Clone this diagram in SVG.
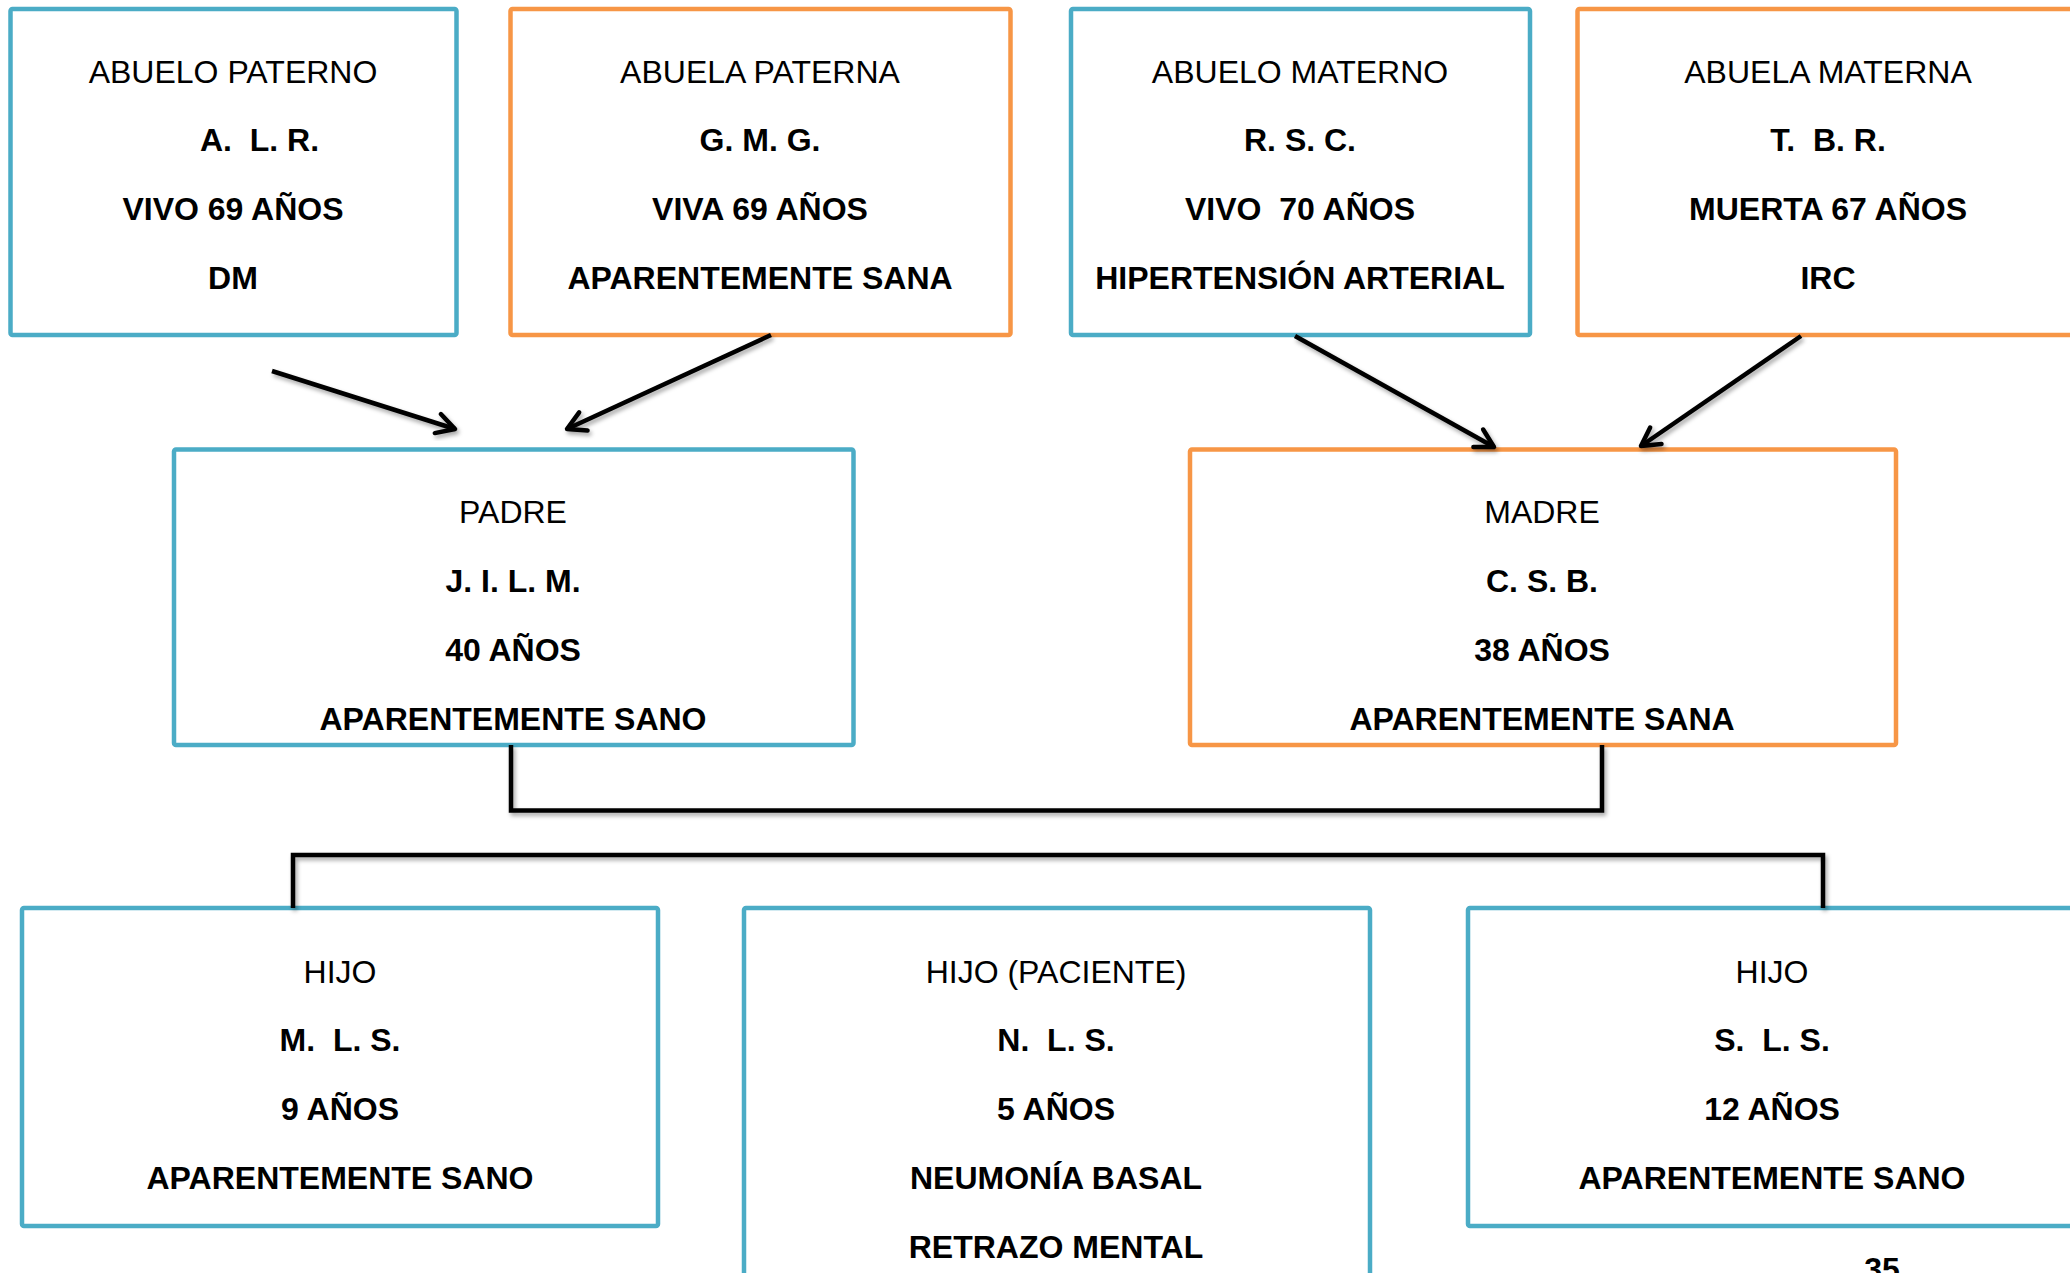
<svg xmlns="http://www.w3.org/2000/svg" width="2070" height="1273" viewBox="0 0 2070 1273">
<style>
.box{fill:#fff;stroke-width:4.5}
.b{stroke:#4BACC6}
.o{stroke:#F79646}
text{font-family:"Liberation Sans",Arial,sans-serif;font-size:32px;fill:#000;text-anchor:middle;white-space:pre}
.bd{font-weight:bold}
.conn{fill:none;stroke:#000;stroke-width:4.5;filter:url(#sh)}
</style>
<defs>
<filter id="sh" x="-20%" y="-20%" width="140%" height="140%">
<feDropShadow dx="2" dy="3" stdDeviation="2" flood-color="#000" flood-opacity="0.35"/>
</filter>
<marker id="arr" markerUnits="userSpaceOnUse" viewBox="-22 -13 26 26" refX="0" refY="0" markerWidth="26" markerHeight="26" orient="auto">
<path d="M-18,-10 L0,0 L-18,10" fill="none" stroke="#000" stroke-width="4.5" stroke-linecap="round" stroke-linejoin="round"/>
</marker>
</defs>
<rect width="2070" height="1273" fill="#fff"/>

<g id="abuelo-paterno">
<rect class="box b" x="10.5" y="9" width="446" height="326" rx="2"/>
<text x="233" y="83">ABUELO PATERNO</text>
<text class="bd" x="200" y="151" style="text-anchor:start">A.  L. R.</text>
<text class="bd" x="233" y="220">VIVO 69 AÑOS</text>
<text class="bd" x="233" y="289">DM</text>
</g>

<g id="abuela-paterna">
<rect class="box o" x="510.5" y="9" width="500" height="326" rx="2"/>
<text x="760" y="83">ABUELA PATERNA</text>
<text class="bd" x="760" y="151">G. M. G.</text>
<text class="bd" x="760" y="220">VIVA 69 AÑOS</text>
<text class="bd" x="760" y="289">APARENTEMENTE SANA</text>
</g>

<g id="abuelo-materno">
<rect class="box b" x="1071" y="9" width="459" height="326" rx="2"/>
<text x="1300" y="83">ABUELO MATERNO</text>
<text class="bd" x="1300" y="151">R. S. C.</text>
<text class="bd" x="1300" y="220">VIVO  70 AÑOS</text>
<text class="bd" x="1300" y="289">HIPERTENSIÓN ARTERIAL</text>
</g>

<g id="abuela-materna">
<rect class="box o" x="1577.5" y="9" width="503" height="326" rx="2"/>
<text x="1828" y="83">ABUELA MATERNA</text>
<text class="bd" x="1828" y="151">T.  B. R.</text>
<text class="bd" x="1828" y="220">MUERTA 67 AÑOS</text>
<text class="bd" x="1828" y="289">IRC</text>
</g>

<g id="padre">
<rect class="box b" x="174" y="449.5" width="679.5" height="295.5" rx="2"/>
<text x="513" y="523">PADRE</text>
<text class="bd" x="513" y="592">J. I. L. M.</text>
<text class="bd" x="513" y="661">40 AÑOS</text>
<text class="bd" x="513" y="730">APARENTEMENTE SANO</text>
</g>

<g id="madre">
<rect class="box o" x="1190" y="449.5" width="706" height="295.5" rx="2"/>
<text x="1542" y="523">MADRE</text>
<text class="bd" x="1542" y="592">C. S. B.</text>
<text class="bd" x="1542" y="661">38 AÑOS</text>
<text class="bd" x="1542" y="730">APARENTEMENTE SANA</text>
</g>

<g id="hijo-1">
<rect class="box b" x="22" y="908" width="636" height="318" rx="2"/>
<text x="340" y="983">HIJO</text>
<text class="bd" x="340" y="1051">M.  L. S.</text>
<text class="bd" x="340" y="1120">9 AÑOS</text>
<text class="bd" x="340" y="1189">APARENTEMENTE SANO</text>
</g>

<g id="hijo-paciente">
<rect class="box b" x="744" y="908" width="626" height="400" rx="2"/>
<text x="1056" y="983">HIJO (PACIENTE)</text>
<text class="bd" x="1056" y="1051">N.  L. S.</text>
<text class="bd" x="1056" y="1120">5 AÑOS</text>
<text class="bd" x="1056" y="1189">NEUMONÍA BASAL</text>
<text class="bd" x="1056" y="1258">RETRAZO MENTAL</text>
</g>

<g id="hijo-3">
<rect class="box b" x="1468" y="908" width="610" height="318" rx="2"/>
<text x="1772" y="983">HIJO</text>
<text class="bd" x="1772" y="1051">S.  L. S.</text>
<text class="bd" x="1772" y="1120">12 AÑOS</text>
<text class="bd" x="1772" y="1189">APARENTEMENTE SANO</text>
</g>

<text class="bd" x="1882" y="1280">35</text>

<g id="connectors">
<line class="conn" x1="272" y1="371" x2="455" y2="429" marker-end="url(#arr)"/>
<line class="conn" x1="771" y1="335" x2="567" y2="429" marker-end="url(#arr)"/>
<line class="conn" x1="1295" y1="336" x2="1494" y2="447" marker-end="url(#arr)"/>
<line class="conn" x1="1801" y1="336" x2="1641" y2="446" marker-end="url(#arr)"/>
<path class="conn" d="M511,745 V810.5 H1602 V745"/>
<path class="conn" d="M1053,810.5 V908"/>
<path class="conn" d="M293,908 V855 H1823 V908"/>
</g>
</svg>
